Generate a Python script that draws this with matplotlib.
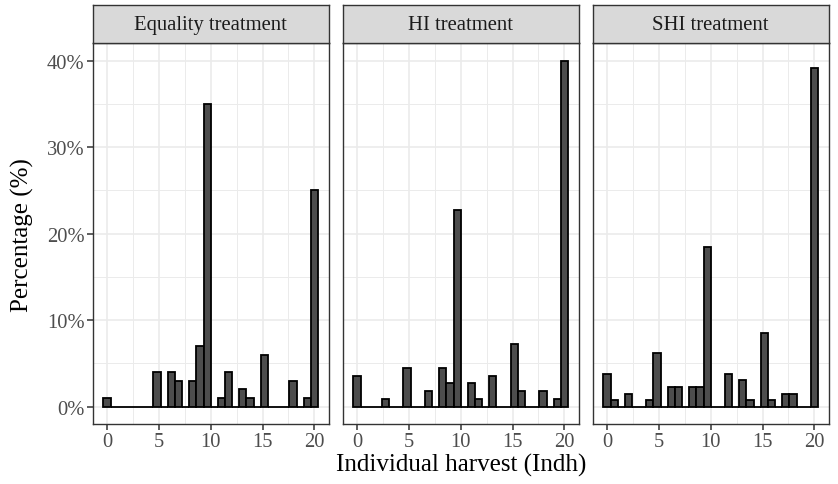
import numpy as np
import matplotlib
matplotlib.use("Agg")
import matplotlib.pyplot as plt

plt.rcParams['font.family'] = ['Liberation Serif', 'DejaVu Serif']

# individual harvest values (Indh) and percentage of subjects per value
harvest = np.arange(0, 21)
treatments = ['Equality treatment', 'HI treatment', 'SHI treatment']
pct_equality = [1, 0, 0, 0, 0, 4, 4, 3, 3, 7, 35, 1, 4, 2, 1, 6, 0, 0, 3, 1, 25]
pct_hi = [3.6, 0, 0, 0.9, 0, 4.5, 0, 1.8, 4.5, 2.7, 22.7, 2.7, 0.9, 3.6, 0, 7.3, 1.8, 0, 1.8, 0.9, 40.0]
pct_shi = [3.8, 0.8, 1.5, 0, 0.8, 6.2, 2.3, 2.3, 2.3, 2.3, 18.5, 0, 3.8, 3.1, 0.8, 8.5, 0.8, 1.5, 1.5, 0, 39.2]
xticks = [0, 5, 10, 15, 20]
yticks = [0, 10, 20, 30, 40]
ytick_labels = ['0%', '10%', '20%', '30%', '40%']

# ggplot-like histogram: 30 bins over 0..20
nbins = 30
w = 20 / (nbins - 1)
edges = (np.arange(nbins + 1) - 0.5) * w + 1e-9

W, H = 838, 485
fig = plt.figure(figsize=(W / 100, H / 100), dpi=100)

lefts = [92.7, 342.7, 592.7]
pw = 236
top_px, bot_px, strip_top = 44.3, 425, 6
border = '#333333'
grid_c = '#EBEBEB'

for i, (name, pct, lx) in enumerate(zip(treatments, [pct_equality, pct_hi, pct_shi], lefts)):
    ax = fig.add_axes([lx / W, 1 - bot_px / H, pw / W, (bot_px - top_px) / H])
    ax.hist(harvest, bins=edges, weights=pct, color='#4D4D4D',
            edgecolor='black', linewidth=1.3)
    ax.set_xlim(-1.379, 21.379)
    ax.set_ylim(-2, 42)
    ax.set_xticks(xticks)
    ax.set_xticks([2.5, 7.5, 12.5, 17.5], minor=True)
    ax.set_yticks(yticks)
    ax.set_yticks([5, 15, 25, 35], minor=True)
    ax.grid(which='major', color=grid_c, linewidth=1.2)
    ax.grid(which='minor', color=grid_c, linewidth=0.7)
    ax.set_axisbelow(True)
    ax.tick_params(which='minor', length=0)
    ax.tick_params(which='major', length=4, width=1.1, color=border,
                   labelcolor='#4D4D4D', labelsize=14.8, pad=2)
    if i == 0:
        ax.set_yticklabels(ytick_labels)
    else:
        ax.tick_params(axis='y', which='major', length=0, labelleft=False)
    for s in ax.spines.values():
        s.set_color(border)
        s.set_linewidth(1.0)

    sax = fig.add_axes([lx / W, 1 - top_px / H, pw / W, (top_px - strip_top) / H])
    sax.set_facecolor('#D9D9D9')
    sax.set_xticks([])
    sax.set_yticks([])
    for s in sax.spines.values():
        s.set_color(border)
        s.set_linewidth(1.0)
    sax.text(0.5, 0.48, name, ha='center', va='center', fontsize=14.9,
             color='#1A1A1A', transform=sax.transAxes)

fig.text(460.7 / W, 1 - 465 / H, 'Individual harvest (Indh)', ha='center',
         va='center', fontsize=18)
fig.text(22 / W, 1 - 234.7 / H, 'Percentage (%)', ha='center', va='center',
         rotation=90, fontsize=18)

plt.savefig('out.png', dpi=100)
